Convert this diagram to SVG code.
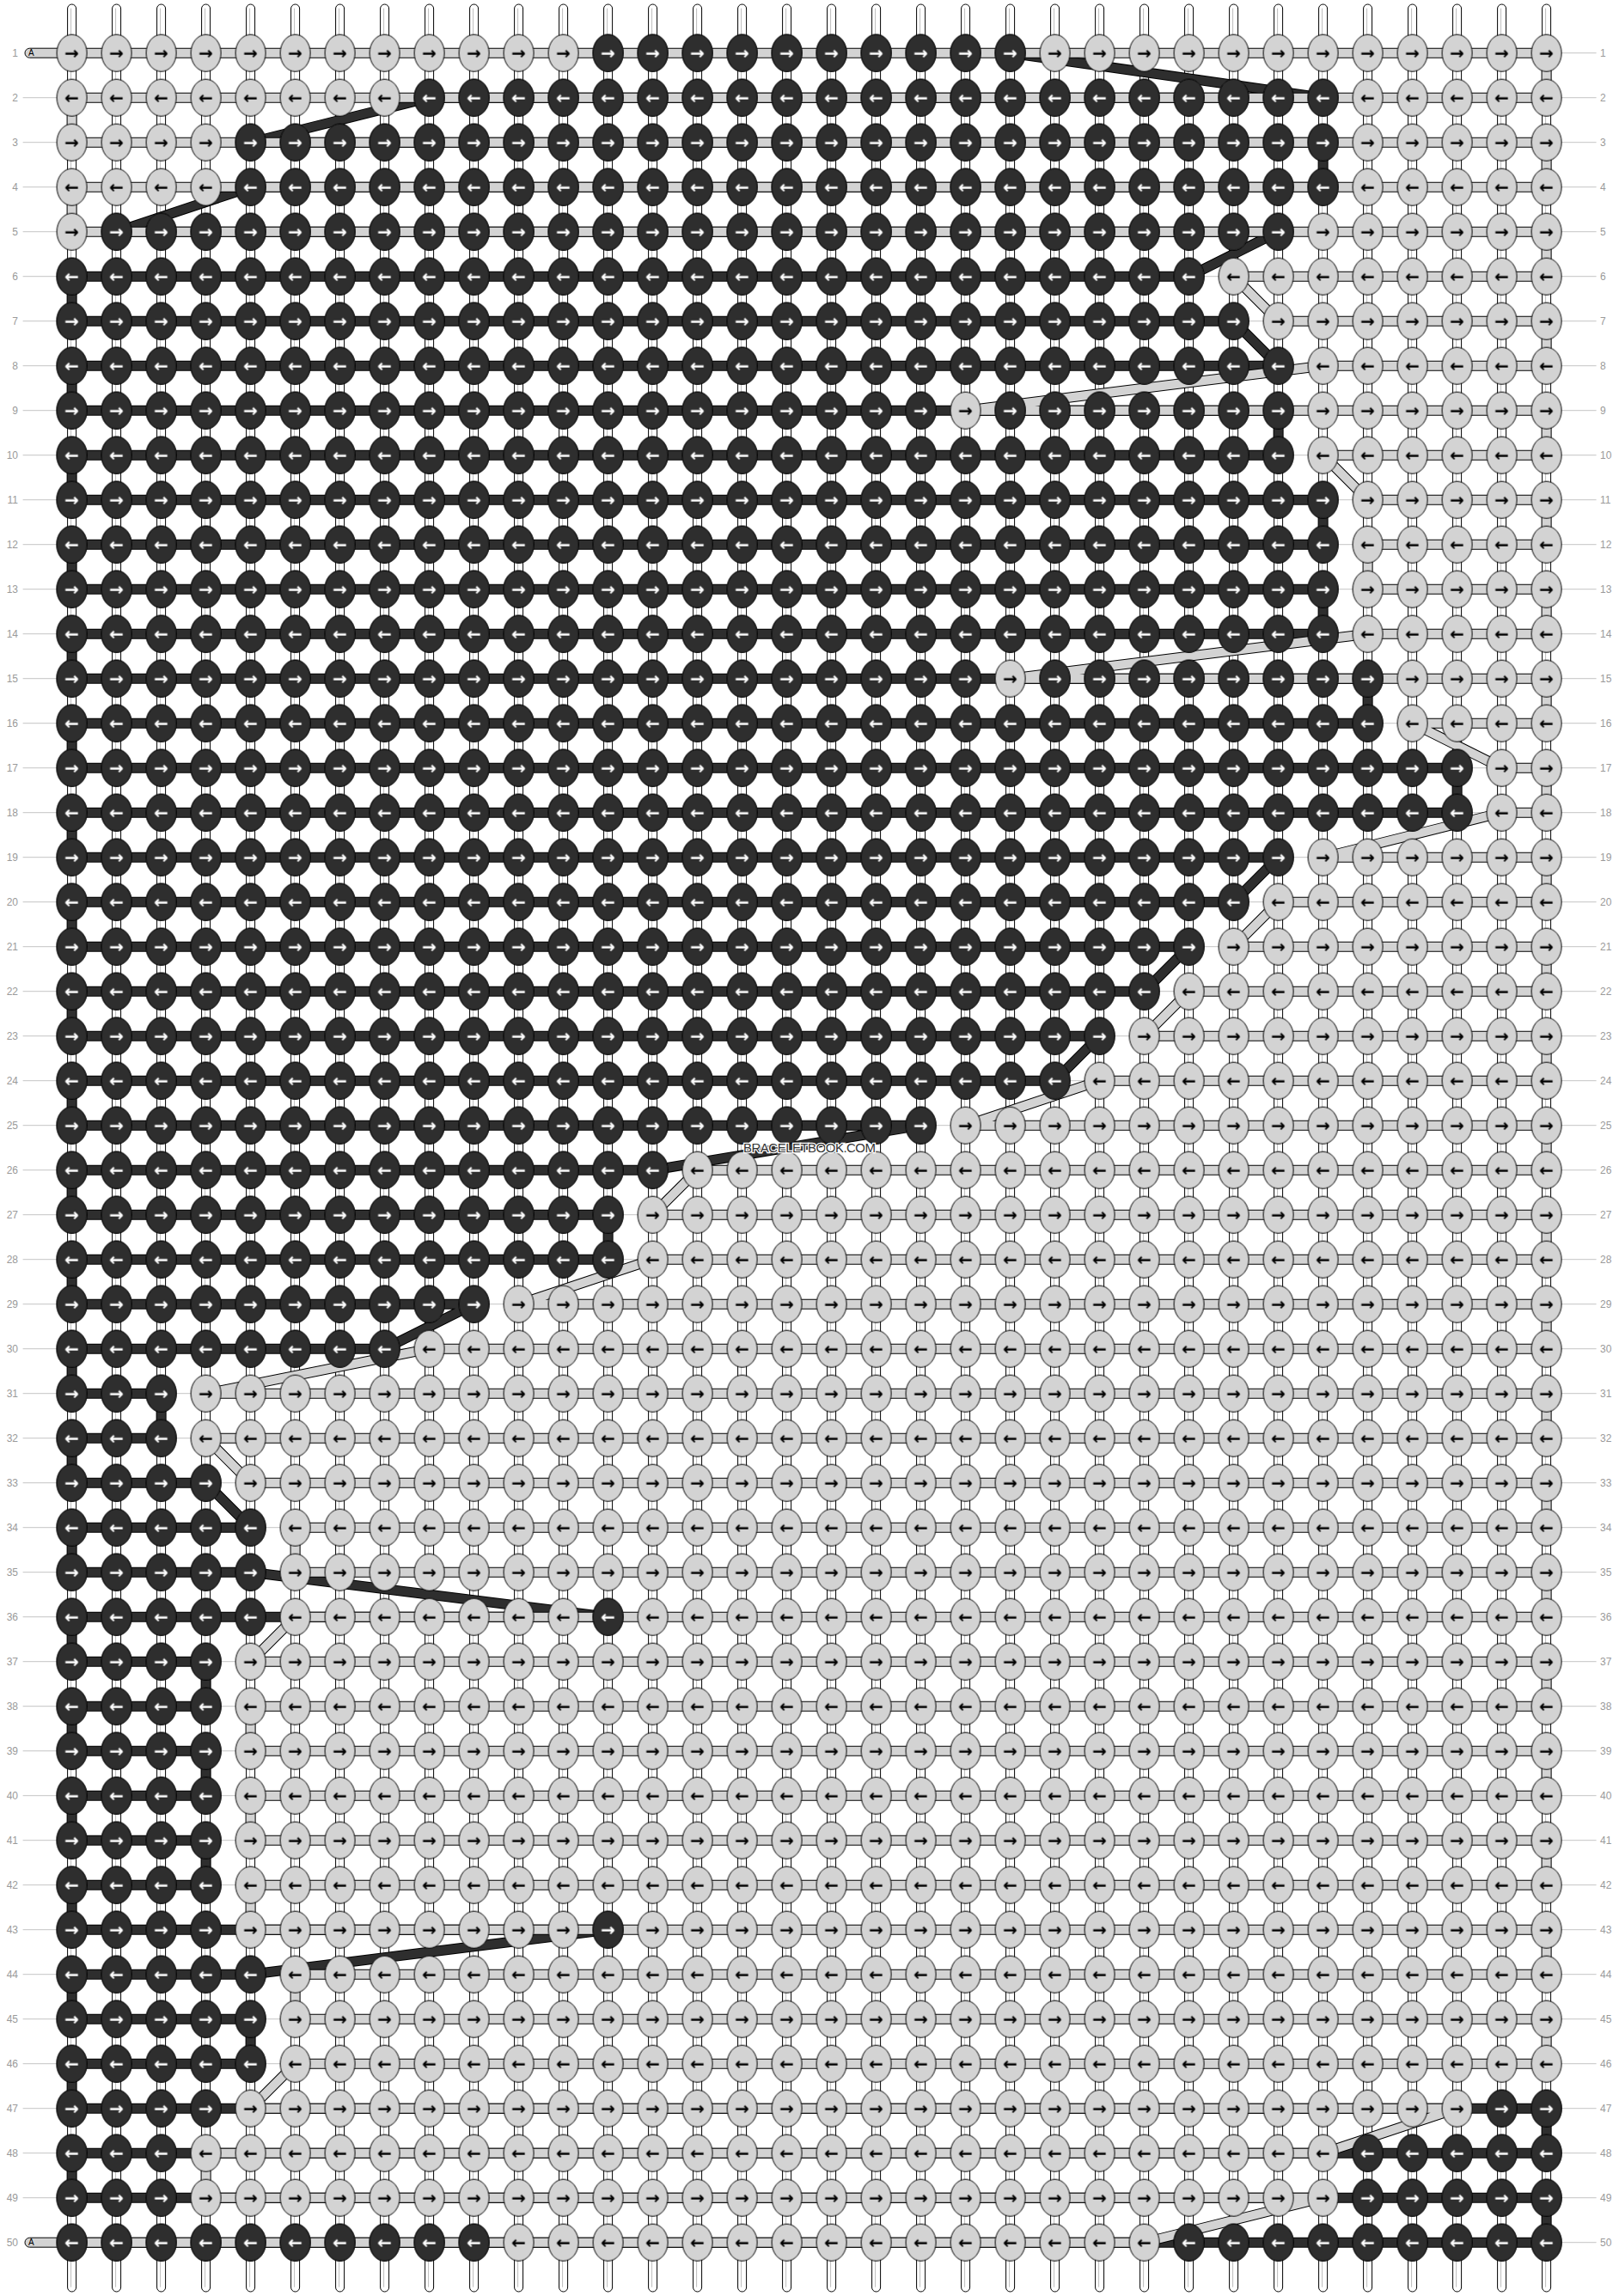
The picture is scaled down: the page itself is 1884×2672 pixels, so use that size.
<svg xmlns="http://www.w3.org/2000/svg" width="1884" height="2672" viewBox="0 0 1884 2672">
<style>
.bg{fill:#fff}
.gl{fill:none;stroke:#c4c4c4;stroke-width:1}
.tb{fill:#fff;stroke:#000;stroke-width:1}
.tl{fill:none;stroke:#bdbdbd;stroke-width:1}
.to{fill:none;stroke:#000;stroke-width:12;stroke-linejoin:round}
.df{fill:none;stroke:#2e2e2e;stroke-width:10;stroke-linejoin:round}
.lf{fill:none;stroke:#d3d3d3;stroke-width:10;stroke-linejoin:round}
.kl{fill:#d3d3d3;stroke:#000;stroke-width:1}
.kd{fill:#2e2e2e;stroke:#000;stroke-width:1}
.ab{font-family:"DejaVu Sans",sans-serif;font-weight:bold;font-size:20px;text-anchor:middle;fill:#000}
.aw{font-family:"DejaVu Sans",sans-serif;font-weight:bold;font-size:20px;text-anchor:middle;fill:#fff}
.lb{font-family:"Liberation Sans",Arial,sans-serif;font-size:12px;fill:#9a9a9a;text-anchor:end}
.rb{font-family:"Liberation Sans",Arial,sans-serif;font-size:12px;fill:#9a9a9a;text-anchor:start}
.at{fill:#d3d3d3;stroke:#000;stroke-width:1}
.atx{font-family:"Liberation Sans",Arial,sans-serif;font-size:10px;fill:#000}
.wm{font-family:"Liberation Sans",Arial,sans-serif;font-size:15px;fill:#333;stroke:#fff;stroke-width:2.5;paint-order:stroke;text-anchor:middle}
</style>
<defs>
<pattern id="pL" patternUnits="userSpaceOnUse" x="-26" y="-26" width="52" height="104">
<ellipse class="kl" cx="26" cy="26" rx="17.5" ry="21.5"/>
<text class="ab" x="26" y="32.6">→</text>
<ellipse class="kl" cx="26" cy="78" rx="17.5" ry="21.5"/>
<text class="ab" x="26" y="84.6">←</text>
</pattern>
<pattern id="pD" patternUnits="userSpaceOnUse" x="-26" y="-26" width="52" height="104">
<ellipse class="kd" cx="26" cy="26" rx="17.5" ry="21.5"/>
<text class="aw" x="26" y="32.6">→</text>
<ellipse class="kd" cx="26" cy="78" rx="17.5" ry="21.5"/>
<text class="aw" x="26" y="84.6">←</text>
</pattern>
</defs>
<rect class="bg" x="0" y="0" width="1884" height="2672"/>
<g transform="translate(83.6,61.7)">
<path id="guides" class="gl" d="M0 0H1774M-57 52H1774M-57 104H1774M-57 156H1774M-57 208H1774M-57 260H1774M-57 312H1774M-57 364H1774M-57 416H1774M-57 468H1774M-57 520H1774M-57 572H1774M-57 624H1774M-57 676H1774M-57 728H1774M-57 780H1774M-57 832H1774M-57 884H1774M-57 936H1774M-57 988H1774M-57 1040H1774M-57 1092H1774M-57 1144H1774M-57 1196H1774M-57 1248H1774M-57 1300H1774M-57 1352H1774M-57 1404H1774M-57 1456H1774M-57 1508H1774M-57 1560H1774M-57 1612H1774M-57 1664H1774M-57 1716H1774M-57 1768H1774M-57 1820H1774M-57 1872H1774M-57 1924H1774M-57 1976H1774M-57 2028H1774M-57 2080H1774M-57 2132H1774M-57 2184H1774M-57 2236H1774M-57 2288H1774M-57 2340H1774M-57 2392H1774M-57 2444H1774M-57 2496H1774M0 2548H1774"/>
<g id="strands">
<rect class="tb" x="-5" y="-56.7" width="10" height="2662" rx="5"/>
<rect class="tb" x="47" y="-56.7" width="10" height="2662" rx="5"/>
<rect class="tb" x="99" y="-56.7" width="10" height="2662" rx="5"/>
<rect class="tb" x="151" y="-56.7" width="10" height="2662" rx="5"/>
<rect class="tb" x="203" y="-56.7" width="10" height="2662" rx="5"/>
<rect class="tb" x="255" y="-56.7" width="10" height="2662" rx="5"/>
<rect class="tb" x="307" y="-56.7" width="10" height="2662" rx="5"/>
<rect class="tb" x="359" y="-56.7" width="10" height="2662" rx="5"/>
<rect class="tb" x="411" y="-56.7" width="10" height="2662" rx="5"/>
<rect class="tb" x="463" y="-56.7" width="10" height="2662" rx="5"/>
<rect class="tb" x="515" y="-56.7" width="10" height="2662" rx="5"/>
<rect class="tb" x="567" y="-56.7" width="10" height="2662" rx="5"/>
<rect class="tb" x="619" y="-56.7" width="10" height="2662" rx="5"/>
<rect class="tb" x="671" y="-56.7" width="10" height="2662" rx="5"/>
<rect class="tb" x="723" y="-56.7" width="10" height="2662" rx="5"/>
<rect class="tb" x="775" y="-56.7" width="10" height="2662" rx="5"/>
<rect class="tb" x="827" y="-56.7" width="10" height="2662" rx="5"/>
<rect class="tb" x="879" y="-56.7" width="10" height="2662" rx="5"/>
<rect class="tb" x="931" y="-56.7" width="10" height="2662" rx="5"/>
<rect class="tb" x="983" y="-56.7" width="10" height="2662" rx="5"/>
<rect class="tb" x="1035" y="-56.7" width="10" height="2662" rx="5"/>
<rect class="tb" x="1087" y="-56.7" width="10" height="2662" rx="5"/>
<rect class="tb" x="1139" y="-56.7" width="10" height="2662" rx="5"/>
<rect class="tb" x="1191" y="-56.7" width="10" height="2662" rx="5"/>
<rect class="tb" x="1243" y="-56.7" width="10" height="2662" rx="5"/>
<rect class="tb" x="1295" y="-56.7" width="10" height="2662" rx="5"/>
<rect class="tb" x="1347" y="-56.7" width="10" height="2662" rx="5"/>
<rect class="tb" x="1399" y="-56.7" width="10" height="2662" rx="5"/>
<rect class="tb" x="1451" y="-56.7" width="10" height="2662" rx="5"/>
<rect class="tb" x="1503" y="-56.7" width="10" height="2662" rx="5"/>
<rect class="tb" x="1555" y="-56.7" width="10" height="2662" rx="5"/>
<rect class="tb" x="1607" y="-56.7" width="10" height="2662" rx="5"/>
<rect class="tb" x="1659" y="-56.7" width="10" height="2662" rx="5"/>
<rect class="tb" x="1711" y="-56.7" width="10" height="2662" rx="5"/>
<path class="tl" d="M-1 -52V2600M51 -52V2600M103 -52V2600M155 -52V2600M207 -52V2600M259 -52V2600M311 -52V2600M363 -52V2600M415 -52V2600M467 -52V2600M519 -52V2600M571 -52V2600M623 -52V2600M675 -52V2600M727 -52V2600M779 -52V2600M831 -52V2600M883 -52V2600M935 -52V2600M987 -52V2600M1039 -52V2600M1091 -52V2600M1143 -52V2600M1195 -52V2600M1247 -52V2600M1299 -52V2600M1351 -52V2600M1403 -52V2600M1455 -52V2600M1507 -52V2600M1559 -52V2600M1611 -52V2600M1663 -52V2600M1715 -52V2600"/>
</g>
<g id="connectors">
<path class="to" d="M1092 0L1456 52H416L208 104H1456V156H208L52 208H1404L1300 260H0V312H1352L1404 364H0V416H1404V468H0V520H1456V572H0V624H1456V676H0V728H1508V780H0V832H1612V884H0V936H1404L1352 988H0V1040H1300L1248 1092H0V1144H1196L1144 1196H0V1248H988L676 1300H0V1352H624V1404H0V1456H468L364 1508H0V1560H104V1612H0V1664H156L208 1716H0V1768H208L624 1820H0V1872H156V1924H0V1976H156V2028H0V2080H156V2132H0V2184H624L208 2236H0V2288H208V2340H0V2392H1716V2444H0V2496H1716V2548H0"/>
<path id="thread-dark" class="df" d="M1092 0L1456 52H416L208 104H1456V156H208L52 208H1404L1300 260H0V312H1352L1404 364H0V416H1404V468H0V520H1456V572H0V624H1456V676H0V728H1508V780H0V832H1612V884H0V936H1404L1352 988H0V1040H1300L1248 1092H0V1144H1196L1144 1196H0V1248H988L676 1300H0V1352H624V1404H0V1456H468L364 1508H0V1560H104V1612H0V1664H156L208 1716H0V1768H208L624 1820H0V1872H156V1924H0V1976H156V2028H0V2080H156V2132H0V2184H624L208 2236H0V2288H208V2340H0V2392H1716V2444H0V2496H1716V2548H0"/>
<path class="to" d="M0 0H1716V52H0V104H1716V156H0V208H1716V260H1352L1404 312H1716V364H1456L1040 416H1716V468H1456L1508 520H1716V572H1508V624H1716V676H1508L1092 728H1716V780H1560L1664 832H1716V884H1664L1456 936H1716V988H1404L1352 1040H1716V1092H1300L1248 1144H1716V1196H1196L1040 1248H1716V1300H728L676 1352H1716V1404H676L520 1456H1716V1508H416L156 1560H1716V1612H156L208 1664H1716V1716H260V1768H1716V1820H260L208 1872H1716V1924H208V1976H1716V2028H208V2080H1716V2132H208V2184H1716V2236H260V2288H1716V2340H260L208 2392H1612L1456 2444H156V2496H1456L1248 2548H0"/>
<path id="thread-light" class="lf" d="M0 0H1716V52H0V104H1716V156H0V208H1716V260H1352L1404 312H1716V364H1456L1040 416H1716V468H1456L1508 520H1716V572H1508V624H1716V676H1508L1092 728H1716V780H1560L1664 832H1716V884H1664L1456 936H1716V988H1404L1352 1040H1716V1092H1300L1248 1144H1716V1196H1196L1040 1248H1716V1300H728L676 1352H1716V1404H676L520 1456H1716V1508H416L156 1560H1716V1612H156L208 1664H1716V1716H260V1768H1716V1820H260L208 1872H1716V1924H208V1976H1716V2028H208V2080H1716V2132H208V2184H1716V2236H260V2288H1716V2340H260L208 2392H1612L1456 2444H156V2496H1456L1248 2548H0"/>
<g id="thread-A-start">
<rect class="at" x="-54.6" y="-5.5" width="65" height="11" rx="5.5"/>
<text class="atx" x="-50.6" y="3.4">A</text>
</g>
<g id="thread-A-end">
<rect class="at" x="-54.6" y="2542.5" width="65" height="11" rx="5.5"/>
<text class="atx" x="-50.6" y="2551.4">A</text>
</g>
</g>
<g id="knots">
<rect id="light-knots" x="-26" y="-26" width="1768" height="2600" fill="url(#pL)"/>
<g id="row-1"><rect x="598" y="-26" width="520" height="52" fill="url(#pD)"/></g>
<g id="row-2"><rect x="390" y="26" width="1092" height="52" fill="url(#pD)"/></g>
<g id="row-3"><rect x="182" y="78" width="1300" height="52" fill="url(#pD)"/></g>
<g id="row-4"><rect x="182" y="130" width="1300" height="52" fill="url(#pD)"/></g>
<g id="row-5"><rect x="26" y="182" width="1404" height="52" fill="url(#pD)"/></g>
<g id="row-6"><rect x="-26" y="234" width="1352" height="52" fill="url(#pD)"/></g>
<g id="row-7"><rect x="-26" y="286" width="1404" height="52" fill="url(#pD)"/></g>
<g id="row-8"><rect x="-26" y="338" width="1456" height="52" fill="url(#pD)"/></g>
<g id="row-9"><rect x="-26" y="390" width="1040" height="52" fill="url(#pD)"/><rect x="1066" y="390" width="364" height="52" fill="url(#pD)"/></g>
<g id="row-10"><rect x="-26" y="442" width="1456" height="52" fill="url(#pD)"/></g>
<g id="row-11"><rect x="-26" y="494" width="1508" height="52" fill="url(#pD)"/></g>
<g id="row-12"><rect x="-26" y="546" width="1508" height="52" fill="url(#pD)"/></g>
<g id="row-13"><rect x="-26" y="598" width="1508" height="52" fill="url(#pD)"/></g>
<g id="row-14"><rect x="-26" y="650" width="1508" height="52" fill="url(#pD)"/></g>
<g id="row-15"><rect x="-26" y="702" width="1092" height="52" fill="url(#pD)"/><rect x="1118" y="702" width="416" height="52" fill="url(#pD)"/></g>
<g id="row-16"><rect x="-26" y="754" width="1560" height="52" fill="url(#pD)"/></g>
<g id="row-17"><rect x="-26" y="806" width="1664" height="52" fill="url(#pD)"/></g>
<g id="row-18"><rect x="-26" y="858" width="1664" height="52" fill="url(#pD)"/></g>
<g id="row-19"><rect x="-26" y="910" width="1456" height="52" fill="url(#pD)"/></g>
<g id="row-20"><rect x="-26" y="962" width="1404" height="52" fill="url(#pD)"/></g>
<g id="row-21"><rect x="-26" y="1014" width="1352" height="52" fill="url(#pD)"/></g>
<g id="row-22"><rect x="-26" y="1066" width="1300" height="52" fill="url(#pD)"/></g>
<g id="row-23"><rect x="-26" y="1118" width="1248" height="52" fill="url(#pD)"/></g>
<g id="row-24"><rect x="-26" y="1170" width="1196" height="52" fill="url(#pD)"/></g>
<g id="row-25"><rect x="-26" y="1222" width="1040" height="52" fill="url(#pD)"/></g>
<g id="row-26"><rect x="-26" y="1274" width="728" height="52" fill="url(#pD)"/></g>
<g id="row-27"><rect x="-26" y="1326" width="676" height="52" fill="url(#pD)"/></g>
<g id="row-28"><rect x="-26" y="1378" width="676" height="52" fill="url(#pD)"/></g>
<g id="row-29"><rect x="-26" y="1430" width="520" height="52" fill="url(#pD)"/></g>
<g id="row-30"><rect x="-26" y="1482" width="416" height="52" fill="url(#pD)"/></g>
<g id="row-31"><rect x="-26" y="1534" width="156" height="52" fill="url(#pD)"/></g>
<g id="row-32"><rect x="-26" y="1586" width="156" height="52" fill="url(#pD)"/></g>
<g id="row-33"><rect x="-26" y="1638" width="208" height="52" fill="url(#pD)"/></g>
<g id="row-34"><rect x="-26" y="1690" width="260" height="52" fill="url(#pD)"/></g>
<g id="row-35"><rect x="-26" y="1742" width="260" height="52" fill="url(#pD)"/></g>
<g id="row-36"><rect x="-26" y="1794" width="260" height="52" fill="url(#pD)"/><rect x="598" y="1794" width="52" height="52" fill="url(#pD)"/></g>
<g id="row-37"><rect x="-26" y="1846" width="208" height="52" fill="url(#pD)"/></g>
<g id="row-38"><rect x="-26" y="1898" width="208" height="52" fill="url(#pD)"/></g>
<g id="row-39"><rect x="-26" y="1950" width="208" height="52" fill="url(#pD)"/></g>
<g id="row-40"><rect x="-26" y="2002" width="208" height="52" fill="url(#pD)"/></g>
<g id="row-41"><rect x="-26" y="2054" width="208" height="52" fill="url(#pD)"/></g>
<g id="row-42"><rect x="-26" y="2106" width="208" height="52" fill="url(#pD)"/></g>
<g id="row-43"><rect x="-26" y="2158" width="208" height="52" fill="url(#pD)"/><rect x="598" y="2158" width="52" height="52" fill="url(#pD)"/></g>
<g id="row-44"><rect x="-26" y="2210" width="260" height="52" fill="url(#pD)"/></g>
<g id="row-45"><rect x="-26" y="2262" width="260" height="52" fill="url(#pD)"/></g>
<g id="row-46"><rect x="-26" y="2314" width="260" height="52" fill="url(#pD)"/></g>
<g id="row-47"><rect x="-26" y="2366" width="208" height="52" fill="url(#pD)"/><rect x="1638" y="2366" width="104" height="52" fill="url(#pD)"/></g>
<g id="row-48"><rect x="-26" y="2418" width="156" height="52" fill="url(#pD)"/><rect x="1482" y="2418" width="260" height="52" fill="url(#pD)"/></g>
<g id="row-49"><rect x="-26" y="2470" width="156" height="52" fill="url(#pD)"/><rect x="1482" y="2470" width="260" height="52" fill="url(#pD)"/></g>
<g id="row-50"><rect x="-26" y="2522" width="520" height="52" fill="url(#pD)"/><rect x="1274" y="2522" width="468" height="52" fill="url(#pD)"/></g>
</g>
<g id="labels-left" transform="translate(-62.6,0)">
<text class="lb" y="4.3">1</text><text class="lb" y="56.3">2</text><text class="lb" y="108.3">3</text><text class="lb" y="160.3">4</text><text class="lb" y="212.3">5</text><text class="lb" y="264.3">6</text><text class="lb" y="316.3">7</text><text class="lb" y="368.3">8</text><text class="lb" y="420.3">9</text><text class="lb" y="472.3">10</text>
<text class="lb" y="524.3">11</text><text class="lb" y="576.3">12</text><text class="lb" y="628.3">13</text><text class="lb" y="680.3">14</text><text class="lb" y="732.3">15</text><text class="lb" y="784.3">16</text><text class="lb" y="836.3">17</text><text class="lb" y="888.3">18</text><text class="lb" y="940.3">19</text><text class="lb" y="992.3">20</text>
<text class="lb" y="1044.3">21</text><text class="lb" y="1096.3">22</text><text class="lb" y="1148.3">23</text><text class="lb" y="1200.3">24</text><text class="lb" y="1252.3">25</text><text class="lb" y="1304.3">26</text><text class="lb" y="1356.3">27</text><text class="lb" y="1408.3">28</text><text class="lb" y="1460.3">29</text><text class="lb" y="1512.3">30</text>
<text class="lb" y="1564.3">31</text><text class="lb" y="1616.3">32</text><text class="lb" y="1668.3">33</text><text class="lb" y="1720.3">34</text><text class="lb" y="1772.3">35</text><text class="lb" y="1824.3">36</text><text class="lb" y="1876.3">37</text><text class="lb" y="1928.3">38</text><text class="lb" y="1980.3">39</text><text class="lb" y="2032.3">40</text>
<text class="lb" y="2084.3">41</text><text class="lb" y="2136.3">42</text><text class="lb" y="2188.3">43</text><text class="lb" y="2240.3">44</text><text class="lb" y="2292.3">45</text><text class="lb" y="2344.3">46</text><text class="lb" y="2396.3">47</text><text class="lb" y="2448.3">48</text><text class="lb" y="2500.3">49</text><text class="lb" y="2552.3">50</text>
</g>
<g id="labels-right" transform="translate(1778.4,0)">
<text class="rb" y="4.3">1</text><text class="rb" y="56.3">2</text><text class="rb" y="108.3">3</text><text class="rb" y="160.3">4</text><text class="rb" y="212.3">5</text><text class="rb" y="264.3">6</text><text class="rb" y="316.3">7</text><text class="rb" y="368.3">8</text><text class="rb" y="420.3">9</text><text class="rb" y="472.3">10</text>
<text class="rb" y="524.3">11</text><text class="rb" y="576.3">12</text><text class="rb" y="628.3">13</text><text class="rb" y="680.3">14</text><text class="rb" y="732.3">15</text><text class="rb" y="784.3">16</text><text class="rb" y="836.3">17</text><text class="rb" y="888.3">18</text><text class="rb" y="940.3">19</text><text class="rb" y="992.3">20</text>
<text class="rb" y="1044.3">21</text><text class="rb" y="1096.3">22</text><text class="rb" y="1148.3">23</text><text class="rb" y="1200.3">24</text><text class="rb" y="1252.3">25</text><text class="rb" y="1304.3">26</text><text class="rb" y="1356.3">27</text><text class="rb" y="1408.3">28</text><text class="rb" y="1460.3">29</text><text class="rb" y="1512.3">30</text>
<text class="rb" y="1564.3">31</text><text class="rb" y="1616.3">32</text><text class="rb" y="1668.3">33</text><text class="rb" y="1720.3">34</text><text class="rb" y="1772.3">35</text><text class="rb" y="1824.3">36</text><text class="rb" y="1876.3">37</text><text class="rb" y="1928.3">38</text><text class="rb" y="1980.3">39</text><text class="rb" y="2032.3">40</text>
<text class="rb" y="2084.3">41</text><text class="rb" y="2136.3">42</text><text class="rb" y="2188.3">43</text><text class="rb" y="2240.3">44</text><text class="rb" y="2292.3">45</text><text class="rb" y="2344.3">46</text><text class="rb" y="2396.3">47</text><text class="rb" y="2448.3">48</text><text class="rb" y="2500.3">49</text><text class="rb" y="2552.3">50</text>
</g>
</g>
<text id="watermark" class="wm" x="942" y="1341" textLength="154">BRACELETBOOK.COM</text>
</svg>
